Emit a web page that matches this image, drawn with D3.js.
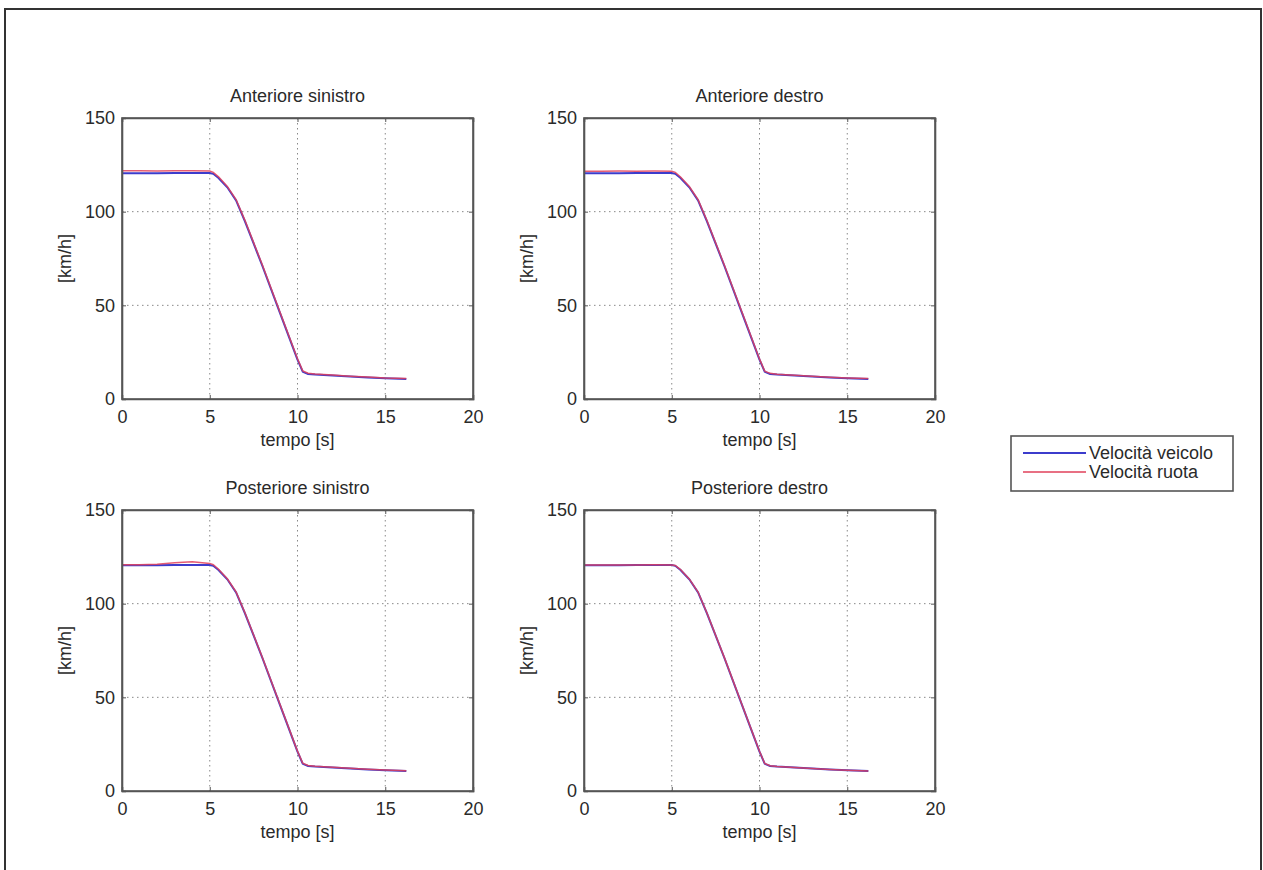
<!DOCTYPE html>
<html><head><meta charset="utf-8">
<script src="https://cdn.jsdelivr.net/npm/d3@7"></script>
<style>body{margin:0;background:#fff}svg{display:block}</style>
</head><body><svg id="c" width="1263" height="870"></svg>
<script>
const titles = ["Anteriore sinistro","Anteriore destro","Posteriore sinistro","Posteriore destro"];
const xTicks = [0,5,10,15,20];
const yTicks = [0,50,100,150];
const seriesNames = ["Velocità veicolo","Velocità ruota"];
const time = [0,1,2,3,4,5,5.2,5.5,6,6.5,7,8,9,10,10.3,10.6,11,12,13,14,15,16.2];
const vehicle = [120.5,120.5,120.5,120.6,120.6,120.6,120.2,118,113,106,95,71,46,21,14.5,13.4,13.1,12.6,12,11.5,11.1,10.7];
const wheelAS = [121.8,121.8,121.7,121.8,121.8,121.7,121,118.6,113.5,106.5,95.5,71.5,46.5,21.5,15,13.8,13.3,12.8,12.2,11.7,11.2,10.9];
const wheelAD = [121.6,121.6,121.7,121.6,121.7,121.6,121,118.5,113.4,106.4,95.4,71.4,46.4,21.4,14.8,13.7,13.2,12.7,12.1,11.6,11.2,10.9];
const wheelPS = [120.8,120.8,121,121.8,122.4,121.5,120.8,118.4,113.3,106.3,95.3,71.3,46.3,21.3,14.8,13.6,13.2,12.7,12.1,11.6,11.2,10.8];
const wheelPD = [120.7,120.7,120.7,120.7,120.8,120.7,120.4,118.2,113.2,106.2,95.2,71.2,46.2,21.2,14.7,13.5,13.1,12.6,12,11.5,11.1,10.7];
const wheels = [wheelAS, wheelAD, wheelPS, wheelPD];

const svg = d3.select("#c");
const font = "'Liberation Sans', Arial, sans-serif";
const txt = "#2a2a2a";
// outer frame
svg.append("rect").attr("x",5).attr("y",9).attr("width",1256).attr("height",900)
  .attr("fill","none").attr("stroke","#333").attr("stroke-width",2);

const W = 351, H = 281;
const origins = [[122,118],[584,118],[122,510],[584,510]];
const blue = "#3c3ccc", red = "#e0405a";

origins.forEach((o,i)=>{
  const g = svg.append("g").attr("transform",`translate(${o[0]},${o[1]})`);
  const x = d3.scaleLinear().domain([0,20]).range([0,W]);
  const y = d3.scaleLinear().domain([0,150]).range([H,0]);
  // grid
  g.selectAll(".gx").data(xTicks.slice(1,-1)).join("line")
    .attr("x1",d=>x(d)).attr("x2",d=>x(d)).attr("y1",0).attr("y2",H)
    .attr("stroke","#888").attr("stroke-width",1).attr("stroke-dasharray","1.5,3.5");
  g.selectAll(".gy").data(yTicks.slice(1,-1)).join("line")
    .attr("y1",d=>y(d)).attr("y2",d=>y(d)).attr("x1",0).attr("x2",W)
    .attr("stroke","#888").attr("stroke-width",1).attr("stroke-dasharray","1.5,3.5");
  // lines
  const line = d3.line().x((d,k)=>x(time[k])).y(d=>y(d));
  g.append("path").datum(vehicle).attr("d",line).attr("fill","none")
    .attr("stroke",blue).attr("stroke-width",2);
  g.append("path").datum(wheels[i]).attr("d",line).attr("fill","none")
    .attr("stroke",red).attr("stroke-width",1.5).attr("stroke-opacity",0.85);
  // axes
  const ax = g.append("g").attr("transform",`translate(0,${H})`)
    .call(d3.axisBottom(x).tickValues(xTicks).tickSize(-4).tickPadding(11));
  const ay = g.append("g").call(d3.axisLeft(y).tickValues(yTicks).tickSize(-4).tickPadding(7));
  g.append("g").call(d3.axisTop(x).tickValues(xTicks).tickSize(-4).tickFormat(""));
  g.append("g").attr("transform",`translate(${W},0)`).call(d3.axisRight(y).tickValues(yTicks).tickSize(-4).tickFormat(""));
  g.selectAll(".domain").attr("stroke","#555").attr("stroke-width",1.6);
  g.selectAll(".tick line").attr("stroke","#555");
  g.selectAll(".tick text").attr("font-family",font).attr("font-size",18).attr("fill",txt);
  g.append("rect").attr("width",W).attr("height",H).attr("fill","none").attr("stroke","#555").attr("stroke-width",1.6);
  // title & labels
  g.append("text").attr("x",W/2).attr("y",-16).attr("text-anchor","middle")
    .attr("font-family",font).attr("font-size",18).attr("fill",txt).text(titles[i]);
  g.append("text").attr("x",W/2).attr("y",H+47).attr("text-anchor","middle")
    .attr("font-family",font).attr("font-size",18).attr("fill",txt).text("tempo [s]");
  g.append("text").attr("transform",`translate(-57,${H/2}) rotate(-90)`).attr("text-anchor","middle")
    .attr("dy","0.35em").attr("font-family",font).attr("font-size",18).attr("fill",txt).text("[km/h]");
});

// legend
const lg = svg.append("g").attr("transform","translate(1011,436)");
lg.append("rect").attr("width",222).attr("height",55).attr("fill","#fff").attr("stroke","#555").attr("stroke-width",1.6);
[blue, red].forEach((c,k)=>{
  const yy = 17 + k*19;
  lg.append("line").attr("x1",12).attr("x2",75).attr("y1",yy).attr("y2",yy).attr("stroke",c).attr("stroke-width",k?1.5:2);
  lg.append("text").attr("x",78).attr("y",yy).attr("dy","0.35em").attr("font-family",font)
    .attr("font-size",18).attr("fill",txt).text(seriesNames[k]);
});
</script></body></html>
